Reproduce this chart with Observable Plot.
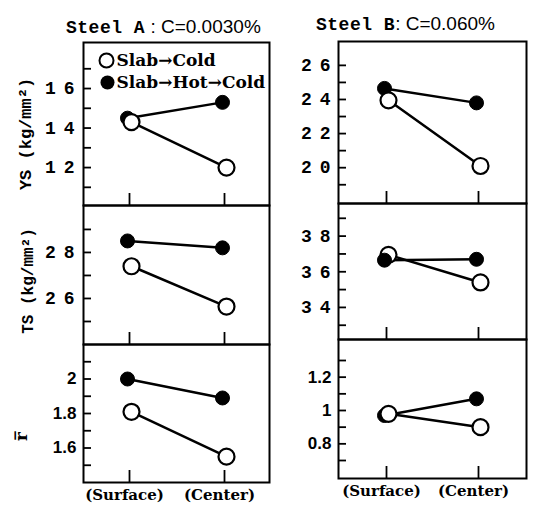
<!DOCTYPE html>
<html><head><meta charset="utf-8">
<script src="https://cdn.jsdelivr.net/npm/d3@7"></script>
<script src="https://cdn.jsdelivr.net/npm/@observablehq/plot@0.6"></script>
<style>
body{margin:0;background:#fff;}
#chart{position:relative;width:538px;height:507px;overflow:hidden;background:#fff;}
#chart > div.p{position:absolute;}
.title{position:absolute;white-space:nowrap;color:#000;line-height:20px;}
.mono{font-family:"Liberation Mono";font-weight:bold;font-size:18px;letter-spacing:0.5px;}
.sans{font-family:"Liberation Sans";font-size:19px;}
</style></head>
<body><div id="chart">
<div class="title" style="left:66px;top:17px"><span class="mono">Steel A</span><span class="sans"> : C=0.0030%</span></div>
<div class="title" style="left:316px;top:14px"><span class="mono">Steel B</span><span class="sans">: C=0.060%</span></div>
</div>
<script>
const positions = ["(Surface)", "(Center)"];
const series = ["Slab→Cold", "Slab→Hot→Cold"];
// Steel A : C=0.0030%
const ysA_cold = [14.3, 12.0];
const ysA_hot = [14.5, 15.3];
const tsA_cold = [27.4, 25.65];
const tsA_hot = [28.5, 28.2];
const rA_cold = [1.81, 1.55];
const rA_hot = [2.0, 1.89];
// Steel B : C=0.060%
const ysB_cold = [23.95, 20.1];
const ysB_hot = [24.65, 23.8];
const tsB_cold = [36.95, 35.4];
const tsB_hot = [36.65, 36.7];
const rB_cold = [0.98, 0.90];
const rB_hot = [0.97, 1.07];
// tick labels and tick positions
const ysA_major = [12, 14, 16];
const ysA_ticks = [11, 12, 13, 14, 15, 16, 17];
const tsA_major = [26, 28];
const tsA_ticks = [25, 26, 27, 28, 29];
const rA_major = [1.6, 1.8, 2];
const rA_ticks = [1.5, 1.6, 1.7, 1.8, 1.9, 2.0, 2.1];
const ysB_major = [20, 22, 24, 26];
const ysB_ticks = [19, 20, 21, 22, 23, 24, 25, 26];
const tsB_major = [34, 36, 38];
const tsB_ticks = [33, 34, 35, 36, 37, 38, 39];
const rB_major = [0.8, 1, 1.2];
const rB_ticks = [0.7, 0.8, 0.9, 1.0, 1.1, 1.2, 1.3];
const yLabels = ["YS (kg/mm²)", "TS (kg/mm²)", "r\u0305"];

const chart = document.getElementById("chart");

function panel(o) {
  const innerW = o.width - o.ml - o.mr;
  const innerH = o.height - o.mt - o.mb;
  const cold = positions.map((p, i) => ({pos: p, v: o.cold[i]}));
  const hot = positions.map((p, i) => ({pos: p, v: o.hot[i]}));
  const lab = o.int
    ? {fontFamily: "Liberation Mono", fontWeight: "bold", fontSize: 18}
    : {fontFamily: "Liberation Sans", fontWeight: "bold", fontSize: 17};
  const hotDots = Plot.dot(hot, {x: "pos", y: "v", dx: -2, r: 7, fill: "black", stroke: "black", strokeWidth: 1});
  const coldDots = Plot.dot(cold, {x: "pos", y: "v", dx: 2, r: 8, fill: "white", stroke: "black", strokeWidth: 2.2});
  const marks = [
    Plot.tickY(o.ticks, {y: d => d, insetRight: innerW - 8, stroke: "black", strokeWidth: 1.8}),
    Plot.tickX(positions, {x: d => d, insetTop: innerH - 12, stroke: "black", strokeWidth: 1.8}),
    Plot.text(o.major, {y: d => d, frameAnchor: "left", textAnchor: "end", lineAnchor: "middle", dx: o.int ? (o.labDx + 8) : o.labDx, text: d => String(d), fill: "black", ...lab}),
    Plot.line(hot, {x: "pos", y: "v", dx: -2, stroke: "black", strokeWidth: 2.5}),
    Plot.line(cold, {x: "pos", y: "v", dx: 2, stroke: "black", strokeWidth: 2.5}),
    ...(o.openFirst ? [coldDots, hotDots] : [hotDots, coldDots]),
    Plot.frame({stroke: "black", strokeWidth: 2})
  ];
  if (o.ylabel) {
    marks.push(Plot.text([o.ylabel], {frameAnchor: "left", textAnchor: "middle", lineAnchor: "middle", rotate: -90, dx: o.ylDx, dy: o.ylDy || 0, text: d => d, fill: "black",
      fontFamily: o.ylFont || "Liberation Mono", fontWeight: "bold", fontSize: o.ylSize || 16}));
  }
  if (o.legend) {
    const lt = {frameAnchor: "top-left", textAnchor: "start", lineAnchor: "middle", text: d => d, fill: "black", fontFamily: "DejaVu Serif", fontWeight: "bold", fontSize: 17};
    marks.push(
      Plot.dot([series[0]], {frameAnchor: "top-left", dx: 23, dy: 18, r: 7, fill: "white", stroke: "black", strokeWidth: 2}),
      Plot.dot([series[1]], {frameAnchor: "top-left", dx: 24, dy: 40, r: 7, fill: "black"}),
      Plot.text([series[0]], {...lt, dx: 33, dy: 18}),
      Plot.text([series[1]], {...lt, dx: 33, dy: 40})
    );
  }
  if (o.xlabels) {
    marks.push(Plot.text(positions, {x: d => d, frameAnchor: "bottom", lineAnchor: "middle", textAnchor: "middle", dy: 13, dx: -5, text: d => d, fill: "black",
      fontFamily: "DejaVu Serif", fontWeight: "bold", fontSize: 15}));
  }
  const svg = Plot.plot({
    width: o.width, height: o.height,
    marginLeft: o.ml, marginRight: o.mr, marginTop: o.mt, marginBottom: o.mb,
    x: {type: "point", domain: positions, padding: o.pad, axis: null},
    y: {domain: o.domain, axis: null},
    style: {background: "transparent", overflow: "visible", color: "black"},
    marks
  });
  // typewriter-style spaced digits for the integer tick labels
  d3.select(svg).selectAll("text")
    .filter(function() { return /^\d\d$/.test(this.textContent); })
    .attr("letter-spacing", "8px")
    .style("letter-spacing", "8px");
  const div = document.createElement("div");
  div.className = "p";
  div.style.left = o.left + "px";
  div.style.top = o.top + "px";
  div.appendChild(svg);
  chart.appendChild(div);
}

// Left column (Steel A)
panel({left: 0, top: 40, width: 271, height: 167, ml: 83, mr: 2, mt: 2, mb: 2, pad: 0.47,
  domain: [10.08, 18.33], ticks: ysA_ticks, major: ysA_major, int: true, labDx: -9,
  cold: ysA_cold, hot: ysA_hot, ylabel: yLabels[0], ylDx: -58, ylDy: 10, ylSize: 17, legend: true});
panel({left: 0, top: 203, width: 271, height: 143, ml: 83, mr: 2, mt: 2, mb: 2, pad: 0.47,
  domain: [24, 30.04], ticks: tsA_ticks, major: tsA_major, int: true, labDx: -9,
  cold: tsA_cold, hot: tsA_hot, ylabel: yLabels[1], ylDx: -56, ylDy: 6, ylSize: 16});
panel({left: 0, top: 342, width: 271, height: 165, ml: 83, mr: 2, mt: 2, mb: 25, pad: 0.47,
  domain: [1.40, 2.2], ticks: rA_ticks, major: rA_major, int: false, labDx: -7,
  cold: rA_cold, hot: rA_hot, ylabel: yLabels[2], ylDx: -62, ylDy: 23, ylFont: "DejaVu Serif", ylSize: 17, xlabels: true});
// Right column (Steel B)
panel({left: 270, top: 39, width: 258, height: 166, ml: 68, mr: 2, mt: 2, mb: 2, pad: 0.52,
  domain: [17.9, 27.4], ticks: ysB_ticks, major: ysB_major, int: true, labDx: -8,
  cold: ysB_cold, hot: ysB_hot});
panel({left: 270, top: 201, width: 258, height: 140, ml: 68, mr: 2, mt: 2, mb: 2, pad: 0.52,
  domain: [32.2, 39.83], ticks: tsB_ticks, major: tsB_major, int: true, labDx: -8,
  cold: tsB_cold, hot: tsB_hot, openFirst: true});
panel({left: 270, top: 337, width: 258, height: 166, ml: 68, mr: 2, mt: 2, mb: 25, pad: 0.52,
  domain: [0.592, 1.426], ticks: rB_ticks, major: rB_major, int: false, labDx: -7,
  cold: rB_cold, hot: rB_hot, xlabels: true});
</script>
</body></html>
